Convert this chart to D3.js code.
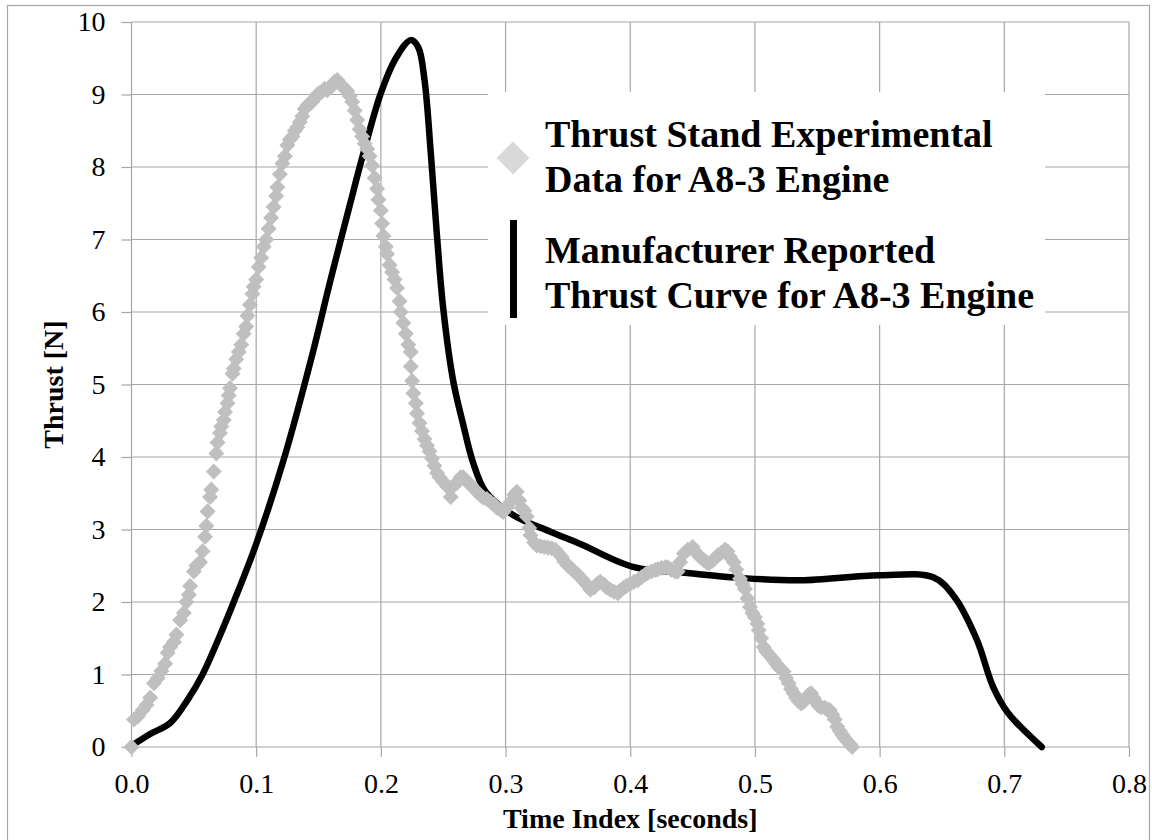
<!DOCTYPE html>
<html>
<head>
<meta charset="utf-8">
<script src="https://cdn.jsdelivr.net/npm/d3@7"></script>
<style>
    body { margin: 0; background: #fff; }
    #chart-area { width: 1152px; height: 840px; }
    .axis text { font-family: "Liberation Serif", "Times New Roman", serif; font-size: 28px; fill: #000; }
    .axis-title { font-family: "Liberation Serif", "Times New Roman", serif; font-size: 28px; font-weight: bold; }
    .legend-text { font-family: "Liberation Serif", "Times New Roman", serif; font-size: 38px; font-weight: bold; }
</style>
</head>
<body>
<div id="chart-area"></div>
<script>

// Thrust stand experimental data (time in seconds, thrust in N)
let expTime = [
    0.000, 0.002, 0.005, 0.009, 0.012, 0.015, 0.018, 0.021, 0.024, 0.027,
    0.029, 0.031, 0.034, 0.036, 0.039, 0.042, 0.044, 0.046, 0.047, 0.050,
    0.052, 0.055, 0.057, 0.059, 0.060, 0.061, 0.063, 0.064, 0.066, 0.068,
    0.069, 0.071, 0.072, 0.074, 0.075, 0.077, 0.078, 0.079, 0.081, 0.082,
    0.084, 0.086, 0.088, 0.090, 0.092, 0.093, 0.095, 0.097, 0.098, 0.100,
    0.102, 0.104, 0.106, 0.108, 0.110, 0.112, 0.114, 0.116, 0.117, 0.119,
    0.121, 0.123, 0.125, 0.127, 0.129, 0.131, 0.133, 0.135, 0.137, 0.139,
    0.141, 0.143, 0.145, 0.147, 0.149, 0.151, 0.153, 0.155, 0.157, 0.159,
    0.161, 0.163, 0.165, 0.167, 0.169, 0.171, 0.173, 0.175, 0.177, 0.179,
    0.181, 0.183, 0.185, 0.187, 0.189, 0.191, 0.193, 0.195, 0.197, 0.198,
    0.200, 0.201, 0.202, 0.204, 0.205, 0.207, 0.209, 0.211, 0.213, 0.215,
    0.216, 0.218, 0.220, 0.222, 0.224, 0.224, 0.225, 0.226, 0.228, 0.229,
    0.231, 0.233, 0.235, 0.237, 0.239, 0.241, 0.243, 0.245, 0.247, 0.250,
    0.252, 0.254, 0.256, 0.258, 0.261, 0.264, 0.266, 0.269, 0.272, 0.275,
    0.277, 0.280, 0.282, 0.285, 0.288, 0.291, 0.293, 0.296, 0.298, 0.301,
    0.304, 0.307, 0.309, 0.311, 0.313, 0.315, 0.317, 0.319, 0.320, 0.323,
    0.325, 0.328, 0.331, 0.334, 0.337, 0.340, 0.342, 0.345, 0.347, 0.350,
    0.353, 0.355, 0.358, 0.361, 0.363, 0.366, 0.368, 0.371, 0.374, 0.376,
    0.379, 0.381, 0.384, 0.387, 0.390, 0.392, 0.395, 0.397, 0.400, 0.403,
    0.406, 0.409, 0.412, 0.414, 0.417, 0.420, 0.422, 0.425, 0.428, 0.430,
    0.433, 0.436, 0.438, 0.440, 0.443, 0.446, 0.450, 0.452, 0.454, 0.456,
    0.459, 0.461, 0.463, 0.466, 0.468, 0.470, 0.473, 0.476, 0.478, 0.480,
    0.483, 0.485, 0.488, 0.490, 0.492, 0.494, 0.496, 0.498, 0.500, 0.502,
    0.503, 0.505, 0.507, 0.509, 0.511, 0.513, 0.515, 0.517, 0.519, 0.521,
    0.523, 0.525, 0.527, 0.529, 0.531, 0.533, 0.535, 0.537, 0.539, 0.541,
    0.543, 0.545, 0.547, 0.549, 0.551, 0.553, 0.556, 0.558, 0.560, 0.562,
    0.564, 0.566, 0.568, 0.570, 0.572, 0.574, 0.576, 0.578
];
let expThrust = [
    0.00, 0.38, 0.42, 0.51, 0.58, 0.68, 0.88, 0.95, 1.05, 1.15,
    1.30, 1.38, 1.45, 1.55, 1.75, 1.85, 2.00, 2.10, 2.22, 2.42,
    2.50, 2.55, 2.70, 2.90, 3.05, 3.25, 3.45, 3.55, 3.80, 4.05,
    4.20, 4.33, 4.42, 4.51, 4.62, 4.74, 4.85, 4.95, 5.15, 5.22,
    5.35, 5.45, 5.55, 5.70, 5.80, 5.95, 6.10, 6.25, 6.35, 6.45,
    6.62, 6.75, 6.90, 7.00, 7.15, 7.30, 7.45, 7.60, 7.72, 7.90,
    8.05, 8.15, 8.30, 8.38, 8.42, 8.50, 8.55, 8.62, 8.70, 8.80,
    8.85, 8.88, 8.90, 8.95, 9.00, 9.02, 9.04, 9.08, 9.06, 9.10,
    9.12, 9.18, 9.20, 9.15, 9.12, 9.08, 9.05, 8.98, 8.90, 8.78,
    8.65, 8.52, 8.42, 8.32, 8.25, 8.15, 8.02, 7.85, 7.70, 7.55,
    7.40, 7.22, 7.05, 6.90, 6.80, 6.65, 6.55, 6.45, 6.33, 6.15,
    6.00, 5.85, 5.70, 5.55, 5.45, 5.25, 5.05, 4.88, 4.74, 4.60,
    4.47, 4.36, 4.25, 4.16, 4.08, 3.98, 3.88, 3.78, 3.72, 3.66,
    3.62, 3.58, 3.45, 3.60, 3.64, 3.72, 3.72, 3.66, 3.62, 3.56,
    3.52, 3.47, 3.44, 3.42, 3.38, 3.34, 3.30, 3.27, 3.24, 3.30,
    3.38, 3.48, 3.52, 3.40, 3.30, 3.26, 3.18, 3.02, 2.92, 2.82,
    2.78, 2.77, 2.76, 2.75, 2.74, 2.72, 2.68, 2.62, 2.56, 2.50,
    2.46, 2.42, 2.38, 2.32, 2.28, 2.22, 2.17, 2.20, 2.26, 2.28,
    2.24, 2.20, 2.17, 2.14, 2.12, 2.16, 2.20, 2.22, 2.25, 2.28,
    2.30, 2.34, 2.38, 2.40, 2.42, 2.44, 2.45, 2.47, 2.48, 2.48,
    2.44, 2.42, 2.42, 2.55, 2.67, 2.72, 2.76, 2.70, 2.66, 2.62,
    2.58, 2.55, 2.53, 2.57, 2.60, 2.64, 2.68, 2.72, 2.70, 2.62,
    2.55, 2.45, 2.32, 2.25, 2.18, 2.05, 1.93, 1.85, 1.79, 1.70,
    1.61, 1.50, 1.38, 1.32, 1.28, 1.24, 1.20, 1.15, 1.10, 1.07,
    1.04, 0.95, 0.88, 0.80, 0.74, 0.68, 0.63, 0.60, 0.62, 0.68,
    0.72, 0.74, 0.68, 0.62, 0.57, 0.55, 0.54, 0.52, 0.51, 0.45,
    0.38, 0.28, 0.22, 0.17, 0.12, 0.08, 0.04, 0.00
];

// Manufacturer reported thrust curve
let mfrTime = [
    0.003, 0.015, 0.031, 0.045, 0.057, 0.070, 0.082, 0.100, 0.122, 0.146,
    0.159, 0.175, 0.186, 0.200, 0.212, 0.224, 0.230, 0.235, 0.240, 0.245,
    0.250, 0.258, 0.266, 0.274, 0.284, 0.306, 0.336, 0.360, 0.403,
    0.446, 0.490, 0.537, 0.600, 0.643, 0.660, 0.678, 0.691, 0.703, 0.730
];
let mfrThrust = [
    0.05, 0.18, 0.33, 0.65, 1.00, 1.50, 2.00, 2.80, 3.96, 5.48,
    6.40, 7.47, 8.19, 9.02, 9.50, 9.75, 9.65, 9.20, 8.20, 7.05,
    6.05, 5.05, 4.45, 3.92, 3.52, 3.20, 2.97, 2.80, 2.48,
    2.40, 2.33, 2.30, 2.37, 2.34, 2.07, 1.48, 0.83, 0.47, 0.00
];

let xTicks = [0, 0.1, 0.2, 0.3, 0.4, 0.5, 0.6, 0.7, 0.8];
let yTicks = [0, 1, 2, 3, 4, 5, 6, 7, 8, 9, 10];

let legendExp = ["Thrust Stand Experimental", "Data for A8-3 Engine"];
let legendMfr = ["Manufacturer Reported", "Thrust Curve for A8-3 Engine"];


class ThrustVis {

    constructor(_parentElement) {
        this.parentElement = _parentElement;

        this.expData = expTime.map((t, i) => ({ time: t, thrust: expThrust[i] }));
        this.mfrData = mfrTime.map((t, i) => ({ time: t, thrust: mfrThrust[i] }));

        this.initVis();
    }

    /*
     * Initialize visualization (static content, e.g. SVG area or axes)
     */
    initVis() {
        let vis = this;

        vis.margin = { top: 22, right: 23, bottom: 93, left: 131.5 };
        vis.width = 1152 - vis.margin.left - vis.margin.right;
        vis.height = 840 - vis.margin.top - vis.margin.bottom;

        vis.root = d3.select("#" + vis.parentElement).append("svg")
            .attr("width", 1152)
            .attr("height", 840);

        // chart frame
        vis.root.append("rect")
            .attr("x", 7.5)
            .attr("y", 5.5)
            .attr("width", 1142)
            .attr("height", 840)
            .attr("fill", "none")
            .attr("stroke", "#a6a6a6")
            .attr("stroke-width", 1.2);

        vis.svg = vis.root.append("g")
            .attr("transform", "translate(" + vis.margin.left + "," + vis.margin.top + ")");

        // Scales and axes
        vis.x = d3.scaleLinear()
            .domain([0, 0.8])
            .range([0, vis.width]);

        vis.y = d3.scaleLinear()
            .domain([0, 10])
            .range([vis.height, 0]);

        vis.xAxis = d3.axisBottom(vis.x)
            .tickValues(xTicks)
            .tickFormat(d3.format(".1f"))
            .tickSizeInner(10)
            .tickSizeOuter(0)
            .tickPadding(16);

        vis.yAxis = d3.axisLeft(vis.y)
            .tickValues(yTicks)
            .tickFormat(d3.format("d"))
            .tickSizeInner(10)
            .tickSizeOuter(0)
            .tickPadding(16);

        // gridlines
        vis.svg.append("g")
            .attr("class", "grid")
            .selectAll("line.vgrid")
            .data(xTicks)
            .enter().append("line")
            .attr("x1", d => vis.x(d))
            .attr("x2", d => vis.x(d))
            .attr("y1", 0)
            .attr("y2", vis.height);

        vis.svg.select(".grid")
            .selectAll("line.hgrid")
            .data(yTicks)
            .enter().append("line")
            .attr("class", "hgrid")
            .attr("x1", 0)
            .attr("x2", vis.width)
            .attr("y1", d => vis.y(d))
            .attr("y2", d => vis.y(d));

        vis.svg.selectAll(".grid line")
            .attr("stroke", "#a6a6a6")
            .attr("stroke-width", 1.2);

        vis.svg.append("g")
            .attr("class", "x-axis axis")
            .attr("transform", "translate(0," + vis.height + ")")
            .call(vis.xAxis);

        vis.svg.append("g")
            .attr("class", "y-axis axis")
            .call(vis.yAxis);

        vis.svg.selectAll(".axis .domain").remove();
        vis.svg.selectAll(".axis line")
            .attr("stroke", "#a6a6a6")
            .attr("stroke-width", 1.2);
        vis.svg.selectAll(".axis text")
            .attr("font-family", null)
            .attr("font-size", null);

        // Axis titles
        vis.svg.append("text")
            .attr("class", "axis-title")
            .attr("x", vis.width / 2)
            .attr("y", vis.height + 81)
            .attr("text-anchor", "middle")
            .text("Time Index [seconds]");

        vis.svg.append("text")
            .attr("class", "axis-title")
            .attr("transform", "translate(" + (63 - vis.margin.left) + "," + (vis.height / 2) + ") rotate(-90)")
            .attr("text-anchor", "middle")
            .text("Thrust [N]");

        vis.updateVis();
    }

    /*
     * The drawing function
     */
    updateVis() {
        let vis = this;

        // manufacturer curve (smoothed line)
        vis.line = d3.line()
            .curve(d3.curveCatmullRom.alpha(0.5))
            .x(d => vis.x(d.time))
            .y(d => vis.y(d.thrust));

        vis.svg.append("path")
            .datum(vis.mfrData)
            .attr("d", vis.line)
            .attr("fill", "none")
            .attr("stroke", "#000")
            .attr("stroke-width", 6.5)
            .attr("stroke-linejoin", "round")
            .attr("stroke-linecap", "round");

        // experimental points as diamonds
        vis.diamond = d3.symbol().type(d3.symbolSquare).size(128);

        vis.svg.selectAll(".marker")
            .data(vis.expData)
            .enter().append("path")
            .attr("class", "marker")
            .attr("d", vis.diamond)
            .attr("transform", d => "translate(" + vis.x(d.time) + "," + vis.y(d.thrust) + ") rotate(45)")
            .attr("fill", "#bfbfbf");

        // Legend
        let legend = vis.root.append("g").attr("class", "legend");

        legend.append("rect")
            .attr("x", 488)
            .attr("y", 92)
            .attr("width", 557)
            .attr("height", 233)
            .attr("fill", "#fff");

        legend.append("path")
            .attr("d", d3.symbol().type(d3.symbolSquare).size(545))
            .attr("transform", "translate(513,158) rotate(45)")
            .attr("fill", "#d9d9d9");

        legend.append("rect")
            .attr("x", 510)
            .attr("y", 220)
            .attr("width", 7)
            .attr("height", 98)
            .attr("fill", "#000");

        legend.selectAll(".legend-exp")
            .data(legendExp)
            .enter().append("text")
            .attr("class", "legend-text")
            .attr("x", 545)
            .attr("y", (d, i) => 147 + i * 45)
            .text(d => d);

        legend.selectAll(".legend-mfr")
            .data(legendMfr)
            .enter().append("text")
            .attr("class", "legend-text")
            .attr("x", 545)
            .attr("y", (d, i) => 263 + i * 45)
            .text(d => d);
    }
}

let thrustVis = new ThrustVis("chart-area");

</script>
</body>
</html>
